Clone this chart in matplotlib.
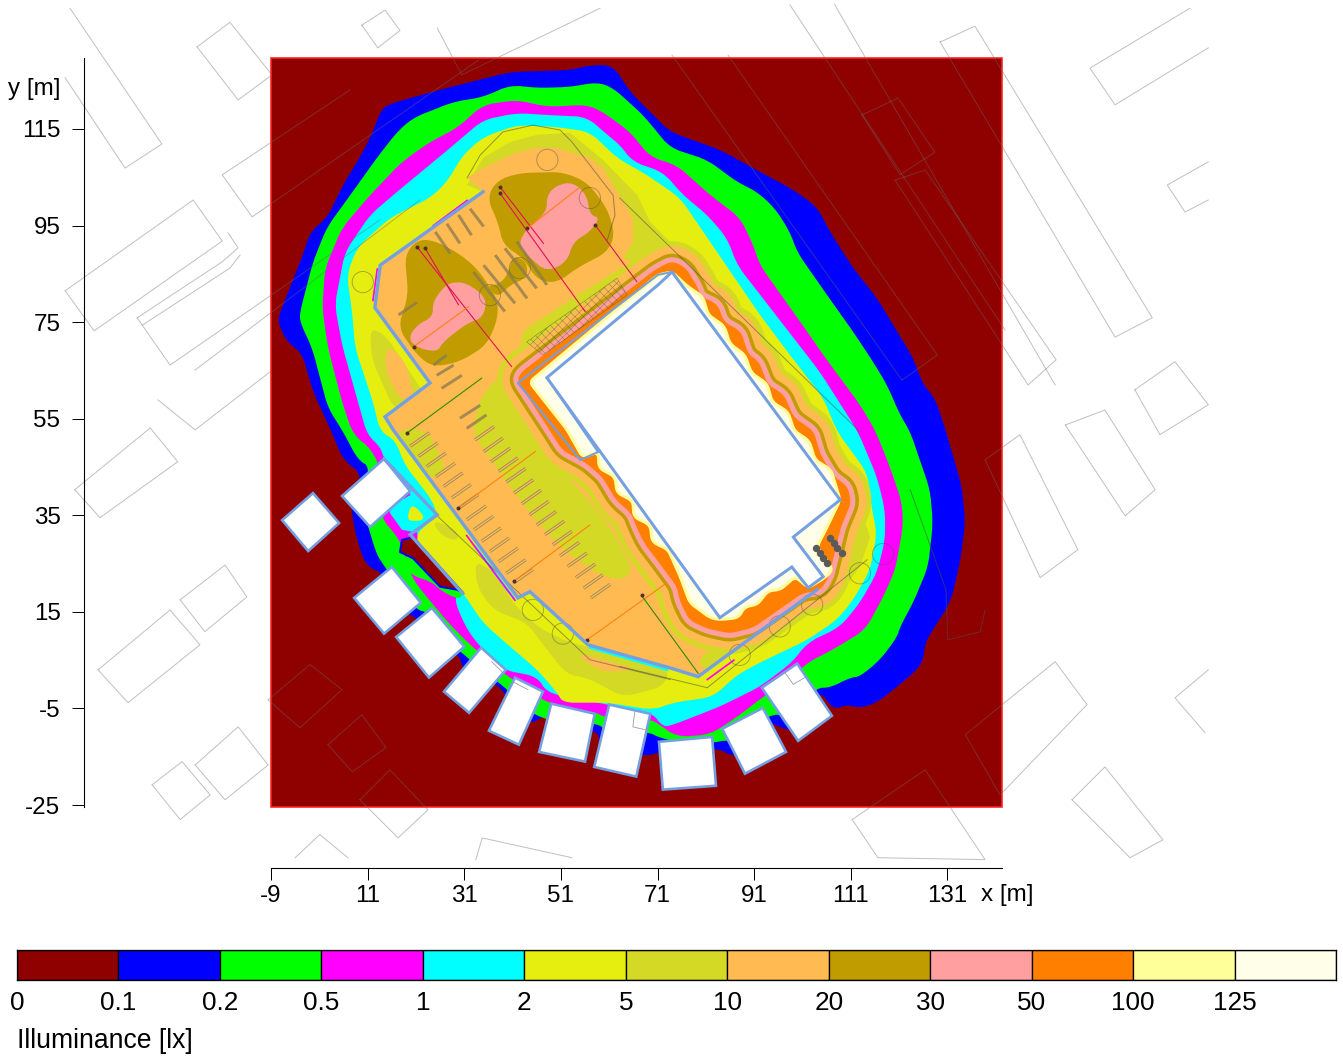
import math
import matplotlib
matplotlib.use("Agg")
import matplotlib.pyplot as plt
from matplotlib.patches import Polygon, Rectangle, Circle

plt.rcParams['font.family'] = ['Liberation Sans', 'DejaVu Sans']
plt.rcParams['hatch.linewidth'] = 0.4

# ---------- legend ----------
level_labels = ['0', '0.1', '0.2', '0.5', '1', '2', '5', '10', '20', '30', '50', '100', '125']
level_colors = ['#8f0000', '#0000ff', '#00ff00', '#ff00ff', '#00ffff', '#e6ee0f', '#d3d924',
                '#ffbb52', '#c19c00', '#ff9f9f', '#ff7f00', '#ffff99', '#fffee8']
C_RED, C_BLUE, C_GREEN, C_MAG, C_CYAN, C_YEL, C_OLV, C_ORG, C_GOLD, C_PINK, C_O100, C_LY, C_PALE = level_colors
x_ticks = [-9, 11, 31, 51, 71, 91, 111, 131]
y_ticks = [-25, -5, 15, 35, 55, 75, 95, 115]
field_x = (-9.0, 142.3)
field_y = (-25.4, 129.7)

# ---------- iso-illuminance contours, metres ----------
iso_01 = [(61.8,128.2),(65.3,122.7),(70.1,117.9),(73.6,114.4),(83.9,110.7),(90.8,106.9),(99.1,102.4),(104,98.9),
 (106.7,93.7),(111.5,86.2),(116.4,80),(119.8,74.4),(123.9,67.6),(126,62),(128.4,59.3),(130.5,53.1),(134,40.9),
 (134.7,33.4),(133.6,25.2),(131.6,16.9),(128,11.3),(126.4,8.6),(126,5.1),(124.7,3),(120.6,-0.5),(116.4,-3.8),
 (112.9,-4.9),(110.2,-4.2),(107.3,-5.3),(104.6,-1.1),(100.5,-10.4),(95.3,-8.4),(93.9,-7.8),(89.1,-13.5),(86.6,-15),
 (83.3,-13.1),(77.7,-14.6),(71.5,-14),(68.4,-15),(62.2,-12.5),(59.1,-12.5),(58.5,-9.4),(52.9,-10.4),(47.7,-6.3),
 (44.6,-8.4),(41.5,-5.3),(39.9,-2.6),(37.8,0),(34.3,1),(30.5,3.4),(30.1,6.1),(26,7.2),(21.8,13.4),(17.7,15.4),
 (14.6,22.7),(10.5,24.7),(8.4,31.4),(7.4,38.2),(10,43.4),(5.9,46.5),(3.8,51.7),(-0.3,60.6),(-2.6,68.6),(-5.7,70.9),
 (-7.6,75),(-7.1,77.1),(-2.4,88.9),(-0.9,93.7),(2.6,96.6),(5.9,103.4),(10,110.2),(12.1,114.4),(13.6,118.5),(15,120),
 (19.8,121.4),(27.4,123.5),(40.5,126.8),(52.9,127.2),(57,128.2)]
iso_02 = [(61.8,123.5),(68,117.9),(73.6,111.1),(81.3,108.6),(87.5,104),(91.6,102),(95.3,98.6),(98.4,93.7),(99.9,89.5),
 (106.1,80.6),(111.5,73),(115.6,66.8),(118.5,62),(121.2,55.8),(123.3,52.3),(127.4,40.3),(128,33.4),(127,24.3),
 (123.9,16.9),(121.2,11.9),(120.6,9.8),(117.1,5.1),(112.9,1.6),(110.9,1.4),(106.7,-0.7),(104,-0.7),(98.4,-6.3),
 (93.7,-6.3),(89.1,-12.5),(85.4,-11.5),(82.5,-12.1),(77.7,-12.5),(71.5,-11.1),(69,-9.8),(63.2,-10.4),(60.6,-9.8),
 (58.5,-8),(52.9,-8.4),(46.1,-6.7),(41.5,-3.2),(39.4,-0.5),(34.3,3),(31.6,5.7),(27,9.2),(23.3,15),(21.2,15.4),
 (17.7,19.6),(14.6,24.3),(12.9,26.8),(11.5,31.4),(9.4,38.2),(11.5,45),(9,46.5),(5.7,52.7),(2.8,57.2),(-0.5,69.7),
 (-3,75),(-3,77.1),(-0.3,87.5),(2.6,94.7),(7.4,101.3),(12.9,109),(17.1,114.4),(20.4,117.3),(28.7,120.6),(34.9,121.6),
 (40.5,124.1),(46.1,123.5),(52.9,123.7),(58.5,124.7)]
iso_05 = [(41.9,121),(48.1,119.6),(56.4,120),(59.7,118.5),(65.3,114.4),(69.5,109.2),(75,107.5),(81.9,101.3),(88.1,96.6),
 (90.8,91),(92.2,86.8),(102,73),(105.3,68.2),(112.9,57.9),(116,52.7),(119.1,45),(121.6,37.6),(121.8,32.6),(120.2,23.7),
 (117.7,18.1),(114,11.3),(107.3,7.2),(102,4.5),(98.4,1),(92.8,-2.6),(88.1,-6.3),(81.9,-10.4),(75,-10.9),(70.9,-8),
 (69.5,-7.3),(59.7,-6.7),(58.5,-5.9),(48.1,-3.8),(39,2.4),(32.2,8.2),(28.1,12.3),(22.9,18.5),(20.2,22),(17.7,29.9),
 (13.6,34.7),(14.6,42.3),(11.9,48.6),(8,51.7),(5.7,58.5),(2.8,69.7),(1.6,77.9),(2.2,86.2),(5.7,94.5),(11.5,101.3),
 (18.1,108.2),(23.9,112.3),(29.5,115.2),(34.9,120)]
iso_1 = [(41.9,118.3),(48.1,117.9),(56.4,117.5),(60.6,113.8),(63.2,111.7),(65.9,108.2),(72.1,106.1),(76.3,101.3),
 (81.3,97.2),(85.4,92.4),(87.5,86.8),(104.6,64.7),(112.5,52.3),(116.4,43),(118.1,36.1),(118.1,29.9),(116.4,23.1),
 (112.9,16.9),(108.8,11.9),(102,8.6),(98.8,4.5),(92.2,-0.5),(83.9,-4.6),(74.2,-8.4),(72.1,-8.8),(69.9,-5.9),(60.6,-4.2),
 (48.1,-1.7),(46.1,1.6),(39,3),(34.3,7.8),(31.6,11.3),(29.1,16.9),(29.5,19),(26,23.7),(21.4,29.9),(19.8,40.3),(14.4,46.7),
 (13.6,49.2),(10.9,51.7),(9,58.5),(5.7,70.3),(4.2,78.6),(6.3,89.5),(11.5,97.2),(17.1,102),(28.1,111.1),(34.9,116.9)]
iso_2 = [(41.9,115.8),(50.2,115.4),(57,114.4),(62.6,109),(68.8,105.5),(75.7,100.7),(81.9,91.6),(92.2,76.5),(98.4,68.2),
 (105.3,59.3),(108.2,52.3),(114.4,43.8),(115.4,36.1),(116.4,31.4),(115,23.7),(111.5,17.5),(108.2,13.4),(102,9.2),
 (92.2,4.5),(87.5,2),(82.5,-2.6),(74.2,-3.8),(70.1,-5.3),(60.6,-3.8),(51.4,-3.8),(50.2,-1.7),(46.1,3),(40.5,7.8),
 (34.9,12.7),(30.7,19),(23.9,26.4),(20.4,30.5),(25.4,35.1),(24.3,38.2),(18.7,45.4),(16.7,50.6),(13.6,52.3),(12.1,58.5),
 (8.4,69.7),(7.8,77.1),(6.7,84.8),(8.8,90.4),(15.6,96.6),(23.9,100.7),(27.4,104),(30.7,109.6),(34.9,113.3)]
iso_5 = [(31.6,103.4),(34.9,109),(40.5,112.3),(46.1,113.8),(52.9,114.2),(59.7,108.6),(66.8,101.3),(69.5,95.7),(73.6,91.6),
 (79.2,87.5),(86.6,76.5),(94.9,66.8),(102,59.3),(106.7,52.3),(108.2,48.6),(112.3,42.3),(113.3,35.5),(115,30.5),(112.9,24.3),
 (108.2,18.1),(103.2,16.9),(104,19.6),(79.4,1.6),(73.6,3.4),(56.6,8.2),(44.6,19.2),(42.1,17.9),(16.3,52.7),(14.6,55.4),
 (23.9,62.4),(12.5,78),(13.6,86.8),(34.9,102)]
iso_5_midlot = [(40.5,61.4),(38.4,64.1),(34.3,59.3),(32.8,52.7),(33.6,50.6),(39,43),(44.6,35.5),(51.4,27.9),(59.7,22.3),
 (63.9,21.6),(65.9,23.7),(61.2,32.6),(54.3,40.9),(51.4,43.8),(47.3,52.7)]
iso_5_north = [(42.5,72.8),(52.9,79.6),(64.3,86.8),(70.5,87.5),(71.5,85.4),(43.6,64.7)]
iso_5_lane = [(33.2,25.8),(38.4,22.3),(40.5,17.5),(46.1,11.9),(52.9,8.6),(59.1,7.2),(73.6,3),(72.1,-0.5),(63.9,-2.6),
 (56.4,1.4),(52.3,2),(48.1,7.2),(44,12.7),(37,15.4),(33.6,20.2)]
iso_5_wall = [(24.3,34.1),(29.5,32),(29.7,29.5),(26,31)]
iso_5_yard = [(11.5,73.8),(14.6,72.4),(22.9,59.9),(19.8,56.4),(16.3,57.2),(11.9,67.2)]
iso_5_edge = [(16.7,52.7),(23.3,52.7),(27.4,44.4),(24.3,42.3)]
iso_5_corner = [(79.2,5.1),(83.9,8.6),(86,6.5),(81.3,2.4)]
iso_10 = [(34.9,102),(31.6,104.9),(34.9,106.9),(41.9,110.2),(46.1,111.1),(50.2,111.1),(57,109),(59.7,106.9),(65.9,96.6),
 (65.9,91.6),(63.9,88.3),(69.5,86.2),(71.1,84.8),(98.8,24.3),(104,19.6),(79.4,1.6),(73.6,3.4),(56.6,8.2),(44.6,19.2),
 (42.1,17.9),(16.3,52.7),(14.6,55.4),(23.9,62.4),(12.5,78),(13.6,86.8)]
iso_10_yard = [(14.9,70.3),(18.7,67.2),(20.8,58.9),(17.7,58.9),(14.6,65.1)]
iso_10_lane = [(54.3,6.5),(59.7,5.1),(66.8,3),(59.7,2.6),(56.4,4.5)]
iso_20_a = [(21.2,92),(24.5,92),(29.5,89.5),(33.6,86.2),(37.8,80),(38,75.9),(35.7,70.3),(30.1,66.8),(24.5,65.7),(21.2,68.2),
 (17.3,73.8),(19.4,80.6),(18.7,88.9)]
iso_20_b = [(37.8,104.4),(42.5,105.9),(51.4,106.1),(56.4,104),(60.6,98.6),(62.2,93.1),(60.6,89.5),(54.3,86.2),(50.2,83.1),
 (46.1,83.7),(43.2,88.3),(39,91),(38,95.7),(35.7,100.7)]
iso_20_neck = [(38,82.7),(40,84.8),(41.1,88.9),(44,87.5),(44,84.2),(40.5,82.7),(37.8,80),(35.7,82.7)]
iso_30_a = [(28.5,83.3),(31.6,83.1),(35.7,80),(34.9,75.9),(31.6,74.8),(26.6,70.9),(25.4,68.8),(21.2,69.7),(19.4,71.7),
 (21.2,74.4),(24.5,76.1),(24.5,79.2),(26.6,82.1)]
iso_30_b = [(50.2,103.4),(53.5,104),(56.4,101.3),(57,97.2),(59.1,96.6),(57,93.7),(53.5,91.6),(52.3,87.5),(48.1,85.4),
 (44.6,88.3),(42.1,91),(44,94.5),(48.1,97.8),(48.1,101.3)]
iso_50 = [(42.1,63),(43,64.6),(70.7,85.8),(74,87.5),(76.7,86.2),(79.2,82.1),(79.8,80.2),(83.3,78.6),(84.6,75),(88.1,73),
 (89.7,68.2),(91.8,66.8),(93.7,62),(97,59.9),(99.1,55.2),(103.2,52.3),(104.6,47.5),(107.3,43),(110.2,40.9),(110.9,37.6),
 (108.8,32.6),(107.3,26.4),(106.3,22.3),(104.6,19.6),(100.9,19),(90.8,11.9),(86,10.7),(81.3,11.7),(77.7,13.4),(75.7,17.5),
 (75.2,20.2),(71.5,25.2),(68.4,29.3),(66.8,32.6),(65.7,35.5),(62.6,38.2),(59.7,43),(56.4,45.9),(51.4,48.6),(48.8,52.7)]
iso_125 = [(74,85.4),(77.1,82.5),(80.4,80.2),(81.5,76.5),(84.8,74.2),(86,70.5),(89.1,68.2),(90.4,64.5),(93.7,62.2),(94.7,58.5),
 (98,56.4),(99.3,52.5),(102.4,50.4),(103.6,46.5),(106.9,44.4),(108.8,38.2),(106.1,32.6),(104,28.5),(107.3,23.7),(105.5,22),
 (102.2,20),(99.5,22.3),(96.4,19.6),(93.9,19.4),(91.6,16.5),(89.1,16.1),(87.7,13.8),(83.9,13.4),(81.9,13.8),(77.7,16.9),
 (75.7,22.3),(73.2,27.9),(69.9,29.5),(69.5,33),(66.1,34.7),(65.9,38),(62.6,39.7),(62.2,43),(58.9,44.8),(58.7,48.1),(55.5,47),
 (52.3,52.7),(44.5,62.6),(71.1,84.8)]
pocket_green = [(16.7,26.2),(20.2,22.5),(24.3,21.2),(26.4,19.2),(30.1,17.5),(30.7,19.2),(26,21.6),(20.4,26.6)]
pocket_dark = [(18.1,29.9),(17.7,27.4),(20.4,26.1),(26,20.2),(29.5,19.6),(30.7,19),(20.4,30.5)]
pocket_cyan = [(15.6,36.7),(19.8,39.2),(24.9,35.1),(20.2,31.6),(18.1,32),(15.6,35.5)]
pocket_yellow = [(19.2,34.7),(20.2,37.6),(23.3,34.1),(19.8,33.7)]
sliver_magenta = [[(24.6,95.0),(31.6,100.2)],[(13.0,86),(12.1,79.5)],[(31.5,30.8),(41.5,17.4)],[(81.3,1.0),(86.8,5.0)]]
sliver_cyan = [[(57,7.6),(73,3)],[(33.4,28.4),(41.2,17.9)]]

# ---------- calculation surfaces and buildings, metres ----------
main_hall = [(74,85.4),(108.8,38.2),(99.1,30.5),(105.3,22.3),(102.2,20),(98.8,24.3),(83.9,13.8),(48.1,63.5),(71.1,82.7)]
houses = [
 [(-0.3,39.6),(5.1,33.4),(-1.3,27.6),(-6.7,34)],
 [(14.4,46.7),(19.8,40),(11.5,32.6),(5.7,39)],
 [(16,24.3),(22,16.9),(14.4,10.5),(8.2,17.9)],
 [(24.3,15.8),(31,7.8),(23.7,1.4),(16.9,9.8)],
 [(34.5,7.6),(39.6,3),(32,-5.9),(26.8,-1.5)],
 [(41.5,1.4),(47.3,-1.5),(42.3,-12.5),(36.1,-9.6)],
 [(49,-4),(58,-6.1),(56,-16),(46.5,-14)],
 [(61,-4.2),(69.5,-6.1),(66.6,-19.1),(57.9,-17.1)],
 [(71.3,-11.9),(82.3,-10.9),(83.1,-21),(72.1,-21.8)],
 [(92.8,-4.9),(97.6,-14),(89.1,-18.5),(84.4,-9.2)],
 [(99.9,4.3),(107.1,-6.5),(100.1,-11.7),(92.6,-0.7)],
]
house_details = [[(66.3,-5.7),(65.9,-8.8),(68.4,-9.4)],[(97.4,2.4),(99.1,0),(101.5,1.4)],[(41.1,0.5),(44.2,-1.1)],[(36.7,4.7),(38.8,2.6)]]
fence_main = [(34.9,102),(13.6,86.8),(12.5,78),(23.9,62.4),(14.6,55.4),(16.3,52.7),(42.1,17.9),(44.6,19.2),(56.6,8.2),
              (73.6,3.4),(79.4,1.6),(104,19.6)]
fence_wall = [(14.4,46.7),(25.4,35.1),(19.8,31),(30.7,18.8)]
strip_edges = [(55,46.5),(42.1,62.4),(71.1,84.8),(74,85.4)]
strip_sw = [(48.1,63.5),(58.7,48.1),(55,46.5)]
hedge_band = [(43.9,70.9),(62.6,84.1),(64.7,80.6),(47.3,68.2)]

# ---------- surrounding plan, metres ----------
plan_lines = [
 [(-51.6,125.6),(-39.2,106.9),(-31.6,111.9),(-50.6,140)],
 [(-24.3,132),(-17.5,137.1),(-8.8,126.2),(-15.8,121),(-24.3,132)],
 [(-51.6,81.5),(-25.1,100.3),(-19.1,91.8),(-45.6,73.2),(-51.6,81.5)],
 [(-36.7,75.9),(-19.1,87.5),(-15.8,90.4),(-17.9,93.5)],
 [(-35.6,74.4),(-17.5,86.2),(-15.4,88.9)],
 [(-36.7,75.9),(-29.9,66.1),(13.6,96.2)],
 [(-24.7,65.1),(21.8,100.3)],
 [(-32.4,58.9),(-24.7,52.7),(-9.2,64.7)],
 [(7.4,123.1),(-19.1,105.5),(-12.9,96.8),(34,129.3)],
 [(-49.6,40.3),(-34,53.1),(-28.3,46.1),(-44.4,34.5),(-49.6,40.3)],
 [(-44.8,3),(-29.9,15.4),(-23.7,8.2),(-38.6,-3.8),(-44.8,3)],
 [(-27.8,17.5),(-18.5,24.7),(-14,18.1),(-22.7,10.9),(-27.8,17.5)],
 [(-9.6,-3.2),(-0.9,4.1),(5.7,-1.1),(-3,-9),(-9.6,-3.2)],
 [(2.8,-12.5),(9.8,-6.3),(14.8,-13.1),(7.8,-18.1),(2.8,-12.5)],
 [(-33.6,-20.8),(-27.4,-16),(-21.6,-22.9),(-27.8,-28),(-33.6,-20.8)],
 [(-24.7,-16.7),(-15.8,-8.8),(-9.6,-16.7),(-18.5,-23.9),(-24.7,-16.7)],
 [(9.4,-23.9),(15.6,-17.7),(23.5,-26),(17.3,-31.8),(9.4,-23.9)],
 [(-4,-35.9),(1.1,-31.1),(6.9,-35.9)],
 [(33.4,-36.3),(34.7,-31.8),(53.3,-35.9)],
 [(181.2,140),(160.5,127.6),(165.7,120),(185,131.8)],
 [(185,108.2),(176.5,103.4),(180.2,97.8),(185,100.3)],
 [(129.5,133),(136.7,136.3),(173.4,75.9),(165.7,71.9),(129.5,133)],
 [(120.2,104.4),(126.4,106.5),(153.5,67.2),(147.7,62),(120.2,104.4)],
 [(113.3,117.9),(120.8,121.4),(128.4,110.2),(121.2,105.5),(113.3,117.9)],
 [(169.8,61),(178.1,66.8),(185,57.9),(175,51.7),(169.8,61)],
 [(155.4,53.7),(163.6,56.8),(174,40.3),(167.8,34.9),(155.4,53.7)],
 [(138.8,46.5),(146,51.7),(158,27.9),(150.2,22.1),(138.8,46.5)],
 [(98.4,140.7),(142.9,73.4)],
 [(107.7,140.7),(153.3,62)],
 [(74,130.3),(121.6,63)],
 [(85.6,130.3),(128.9,68.2),(121.6,63)],
 [(134.7,-10.4),(153.3,4.7),(159.9,-4.2),(141.9,-22.9),(134.7,-10.4)],
 [(156.8,-23.9),(163.6,-17.1),(175.6,-32.2),(168.8,-35.9),(156.8,-23.9)],
 [(111.3,-28),(126.4,-17.7),(138.8,-36.3),(116.6,-35.9),(111.3,-28)],
 [(185,3),(178.1,-2.8),(184.3,-10)],
 [(9.8,136.5),(14.6,139.6),(17.7,135.4),(13.1,131.8),(9.8,136.5)],
 [(25.4,135.9),(30.5,126.2),(59.1,140)],
]
site_lines = [
 [(31.6,104.9),(34.3,109.6),(39,114.4),(45.2,115.8),(50.8,114.8),(53.3,112.3),(61.8,101.3),(62.2,97.2),(60.6,92)],
 [(63.2,3.7),(81.3,-0.7),(114.4,25.8)],
 [(25.6,34.7),(57,5.1),(73.6,1)],
 [(63.2,100.7),(112.9,52.3)],
 [(123.3,40.3),(130.7,19.6),(131.1,9.2),(137.8,10.9),(138.8,15.4)],
]
lamp_bases = [(48.2,108.6),(57,100.7),(36.3,80.6),(42.5,86.2),(10,83.3),(45.2,15.4),(51.4,10.5),(88,6.1),(96.3,12),(103,16.5),
              (112.9,23),(117.7,27)]
plant_x = [103.9,104.6,105.3,106,106.8,107.5,108.2,109.1]
plant_y = [28.2,27.2,26.1,25.1,30.3,29.2,28.2,27.3]
bay_a_x = [19.8,21.5,23.2,25.1,26.7,28.4,29.9,31.5,33,34.6,36.3,38.1,39.7,41.2]
bay_a_y = [49.3,47.2,45.1,43.0,41,38.6,36.5,34.1,32,29.6,27.5,25.4,23,21]
bay_b_x = [33.2,35,36.5,38.1,39.7,41.3,42.9,44.5,46,47.7,49.3,50.8,52.4,54.1,55.7,57.2]
bay_b_y = [50.6,48.2,46.1,44.1,41.9,39.6,37.4,35.1,33,31,28.9,26.6,24.4,22.1,19.9,17.9]
bays_upper = [
 [(32.2,98.5),(35,94.8)],[(29.8,97.2),(32.5,93)],[(27.4,95.4),(30.1,91.3)],[(25,93.7),(28.1,89.2)],
 [(35,86.8),(41.5,78.9)],[(32.9,85.4),(39.4,77.2)],[(37.4,88.9),(44,79.9)],[(39.4,90.3),(46,82)],[(41.9,91.7),(48.1,82.7)],
 [(17.4,76.5),(21.2,79.1)],[(24.6,66.1),(27.4,68.2)],[(25.3,64),(28.8,66.1)],[(26.3,61.3),(30.5,64)],
 [(30.1,55.1),(34.3,57.8)],[(31.5,53),(35.6,55.8)],
]
crimson_beams = [[(21.2,90.6),(40.8,65.8)],[(22.9,90.3),(29.8,78.6)],[(38.4,101.7),(56,77.2)],[(38.4,103),(47.4,91.3)],[(58.1,95.1),(66.7,83.4)]]
orange_beams = [[(20.5,69.9),(31.9,78.2)],[(44,94.4),(54.6,102.7)],[(29.8,36.5),(45.7,48.2)],[(41.2,21.3),(57,33)],[(56.4,9.2),(72.9,21)]]
green_beams = [[(19.1,52),(34.6,63.4)],[(67.7,18.4),(79.4,2.3)]]

PX = 0.72  # points per pixel at dpi 100
FS_AXIS = 17.4
FS_LEGEND = 18.8
FS_TITLE = 19.1
fig = plt.figure(figsize=(13.43, 10.57), dpi=100, facecolor='white')
ax = fig.add_axes([271/1343, 1-807/1057, 731/1343, 749/1057])
ax.set_xlim(*field_x)
ax.set_ylim(*field_y)
ax.set_facecolor('none')

def rounded(pts, cut=1.3, rounds=2):
    """Round the corners of a digitised outline, as the contour lines are curved."""
    for _ in range(rounds):
        out = []
        n = len(pts)
        for i in range(n):
            (x0, y0), (x1, y1) = pts[i], pts[(i+1) % n]
            d = math.hypot(x1-x0, y1-y0) or 1.0
            f = min(0.25, cut/d)
            out.append((x0+(x1-x0)*f, y0+(y1-y0)*f))
            out.append((x1-(x1-x0)*f, y1-(y1-y0)*f))
        pts = out
        cut *= 0.5
    return pts

def fill(pts, color, z, smooth=True):
    ax.add_patch(Polygon(rounded(pts) if smooth else pts, closed=True, facecolor=color, edgecolor='none', zorder=z))

ax.add_patch(Rectangle((field_x[0], field_y[0]), field_x[1]-field_x[0], field_y[1]-field_y[0],
                       facecolor=C_RED, edgecolor='#ff2020', lw=1.6*PX, zorder=1, clip_on=False))
for i, (pts, col) in enumerate([(iso_01, C_BLUE), (iso_02, C_GREEN), (iso_05, C_MAG), (iso_1, C_CYAN), (iso_2, C_YEL)]):
    fill(pts, col, 2+i*0.1)
fill(iso_5, C_OLV, 2.5, smooth=False)
fill(iso_5_yard, C_OLV, 2.6)
fill(iso_10, C_ORG, 2.7, smooth=False)
fill(iso_10_yard, C_ORG, 2.75)
for pts in (iso_5_midlot, iso_5_north, iso_5_lane, iso_5_wall, iso_5_edge, iso_5_corner):
    fill(pts, C_OLV, 2.8)
fill(iso_10_lane, C_ORG, 2.85)
for pts in (iso_20_a, iso_20_b, iso_20_neck):
    fill(pts, C_GOLD, 3)
for pts in (iso_30_a, iso_30_b):
    fill(pts, C_PINK, 3.1)
fill(pocket_green, C_GREEN, 3.2)
ax.add_patch(Polygon(pocket_dark, closed=True, facecolor=C_RED, edgecolor=C_BLUE, lw=2*PX, zorder=3.3))
fill(pocket_cyan, C_CYAN, 3.2, smooth=False)
fill(pocket_yellow, C_YEL, 3.3)
for lines, col, w in [(sliver_cyan, C_CYAN, 2.4), (sliver_magenta, C_MAG, 1.7)]:
    for ln in lines:
        ax.plot(*zip(*ln), color=col, lw=w*PX, zorder=3.35)

# bands around the hall: one outline, stroked from the lower to the higher level
band = rounded(iso_50, cut=0.7)
for col, w in [(C_OLV, 44), (C_ORG, 34), (C_GOLD, 19), (C_PINK, 12)]:
    ax.add_patch(Polygon(band, closed=True, facecolor='none', edgecolor=col, lw=w*PX, joinstyle='round', zorder=3.5))
ax.add_patch(Polygon(band, closed=True, facecolor=C_O100, edgecolor=C_O100, lw=1.5*PX, zorder=3.6))
ax.add_patch(Polygon(rounded(iso_125, cut=0.6), closed=True, facecolor=C_PALE, edgecolor=C_LY, lw=3*PX, zorder=3.7))

# plan on top of the colours
kw_plan = dict(color=(0.42, 0.42, 0.42), alpha=0.42, lw=1.0*PX, zorder=4, clip_on=False)
for ln in plan_lines:
    ax.plot(*zip(*ln), **kw_plan)
for ln in site_lines:
    ax.plot(*zip(*ln), color=(0.3, 0.3, 0.3), alpha=0.55, lw=1.0*PX, zorder=4)
for c in lamp_bases:
    ax.add_patch(Circle(c, 2.2, facecolor='none', edgecolor=(0.3, 0.3, 0.3), alpha=0.45, lw=0.9*PX, zorder=4))
ax.add_patch(Polygon(hedge_band, closed=True, facecolor='none', edgecolor=(0.35, 0.35, 0.3), alpha=0.6, hatch='xxxx', lw=0.6*PX, zorder=4))
for xs, ys in [(bay_a_x, bay_a_y), (bay_b_x, bay_b_y)]:
    for x0, y0 in zip(xs, ys):
        ax.plot([x0, x0+4.0], [y0, y0+2.8], color='#9a8a60', lw=3.2*PX, solid_capstyle='butt', zorder=4)
        ax.plot([x0, x0+4.0], [y0, y0+2.8], color=C_ORG if x0 < 60 else C_OLV, lw=1.4*PX, solid_capstyle='butt', zorder=4.05)
for ln in bays_upper:
    ax.plot(*zip(*ln), color='#8a7a50', lw=3*PX, alpha=0.75, solid_capstyle='butt', zorder=4)
for beams, col in [(crimson_beams, '#e0105a'), (orange_beams, '#ff8010'), (green_beams, '#2f8a00')]:
    for ln in beams:
        ax.plot(*zip(*ln), color=col, lw=1.1*PX, zorder=4.1)
        ax.plot(*ln[0], 'o', color='#503030', ms=2.6*PX, zorder=4.2)
ax.scatter(plant_x, plant_y, s=(6*PX)**2, color='#5a5a5a', zorder=4.3)

# calculation surfaces
BORDER = '#74a0e2'
for h in houses:
    ax.add_patch(Polygon(h, closed=True, facecolor='white', edgecolor=BORDER, lw=2.6*PX, zorder=5))
for ln in house_details:
    ax.plot(*zip(*ln), color=(0.6, 0.6, 0.6), lw=0.8*PX, zorder=5.1)
ax.add_patch(Polygon(main_hall, closed=True, facecolor='white', edgecolor=BORDER, lw=3*PX, joinstyle='miter', zorder=5))
ax.plot(*zip(*fence_main), color=BORDER, lw=3.4*PX, zorder=5, solid_joinstyle='miter')
ax.plot(*zip(*fence_wall), color=BORDER, lw=3.4*PX, zorder=5, solid_joinstyle='miter')
ax.plot(*zip(*strip_edges), color=BORDER, lw=2.0*PX, zorder=5)
ax.plot(*zip(*strip_sw), color=BORDER, lw=2.0*PX, zorder=5)

# axes
for s in ('top', 'right'):
    ax.spines[s].set_visible(False)
ax.spines['left'].set_position(('outward', (271-84)*PX))
ax.spines['bottom'].set_position(('outward', (868-807)*PX))
for s in ('left', 'bottom'):
    ax.spines[s].set_linewidth(1.1*PX)
    ax.spines[s].set_zorder(6)
ax.set_xticks(x_ticks)
ax.set_yticks(y_ticks)
ax.set_xticklabels([str(v) for v in x_ticks])
ax.set_yticklabels([str(v) for v in y_ticks])
ax.tick_params(axis='both', length=12*PX, width=1.0*PX, labelsize=FS_AXIS)
ax.tick_params(axis='x', pad=5*PX)
ax.tick_params(axis='y', pad=11.5*PX)
fig.text(981/1343, 1-895/1057, 'x [m]', fontsize=FS_AXIS, va='center', ha='left')
fig.text(60/1343, 1-89/1057, 'y [m]', fontsize=FS_AXIS, va='center', ha='right')

# legend bar
cax = fig.add_axes([17/1343, 1-980/1057, 1319/1343, 30/1057])
cax.bar(range(len(level_colors)), [1]*len(level_colors), width=1, align='edge', color=level_colors,
        edgecolor='black', linewidth=1.3*PX)
cax.set_xlim(0, len(level_colors))
cax.set_ylim(0, 1)
cax.set_yticks([])
cax.set_xticks(range(len(level_labels)))
cax.set_xticklabels(level_labels)
cax.tick_params(axis='x', length=0, pad=11*PX, labelsize=FS_LEGEND)
for s in cax.spines.values():
    s.set_linewidth(1.3*PX)
fig.text(17/1343, 1-1041/1057, 'Illuminance [lx]', fontsize=FS_TITLE, va='center', ha='left')

fig.savefig('out.png', dpi=100)
